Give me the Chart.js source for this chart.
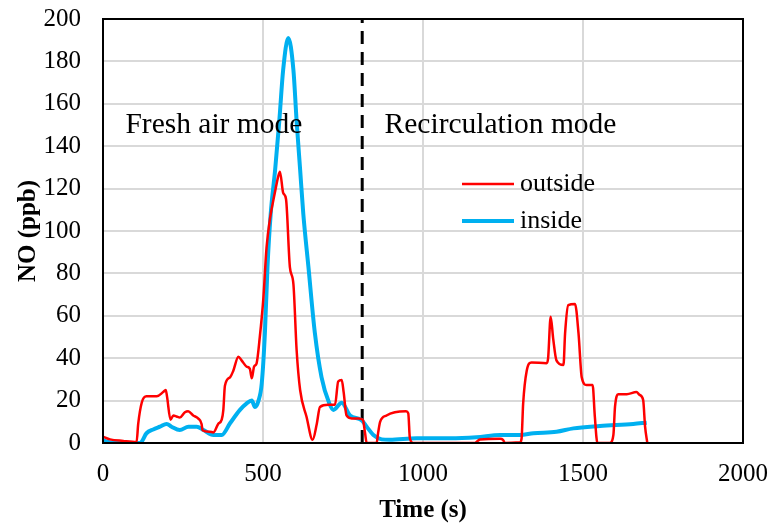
<!DOCTYPE html>
<html>
<head>
<meta charset="utf-8">
<script src="https://cdn.jsdelivr.net/npm/chart.js@4.4.0/dist/chart.umd.min.js"></script>
<style>
  html, body { margin: 0; padding: 0; background: #fff; }
  #wrap { width: 774px; height: 526px; }
</style>
</head>
<body>
<div id="wrap"><canvas id="myChart" width="774" height="526"></canvas></div>
<script>
// Outside NO (red)
const outsideTime = [0, 22, 63, 105, 110, 121, 136, 168, 188, 196, 200, 211, 220, 230, 240, 256, 266, 282, 298, 308, 311, 334, 345, 360, 371, 376, 381, 397, 407, 423, 433, 449, 459, 465, 472, 480, 490, 501, 511, 522, 537, 548, 553, 563, 572, 584, 595, 605, 616, 636, 655, 668, 678, 704, 725, 735, 746, 752, 761, 777, 798, 812, 819, 824, 855, 860, 866, 886, 912, 947, 954, 959, 969, 1162, 1178, 1241, 1250, 1256, 1303, 1308, 1313, 1324, 1339, 1386, 1391, 1399, 1407, 1417, 1439, 1444, 1454, 1475, 1486, 1496, 1511, 1530, 1537, 1545, 1584, 1595, 1600, 1610, 1637, 1667, 1677, 1688, 1694, 1701];
const outsideNO = [3, 1.7, 1, 0.5, 9, 19, 22, 22, 24, 25, 22, 11, 13, 12.5, 12, 14.5, 15, 13, 11.5, 9, 6, 5.3, 5, 9, 11, 15.5, 27, 31, 34, 40.7, 39, 36, 35, 30.5, 36, 37.6, 50, 68, 92, 106, 118, 126, 128, 118, 115, 83, 75, 44, 25, 12.4, 1.5, 9, 17, 18, 18, 29, 29.7, 24, 13, 11.6, 11.6, 11, 4.6, 0, 0, 5, 10, 13, 14.5, 15, 14, 2.2, 0, 0, 1.7, 2, 1.5, 0, 0.3, 2, 18.7, 34, 38, 37.6, 40, 59.6, 49, 39, 36.8, 51.7, 65, 65.6, 51.7, 31, 27.4, 27.4, 12.4, 0, 0, 3.8, 17, 23, 23, 24, 22.7, 20.3, 7.7, 0];

// Inside NO (blue)
const insideTime = [0, 16, 60, 116, 136, 157, 178, 199, 214, 240, 267, 293, 314, 345, 371, 397, 428, 449, 465, 475, 486, 496, 506, 514, 524, 538, 551, 563, 579, 595, 605, 616, 626, 642, 662, 683, 707, 720, 746, 772, 808, 824, 845, 871, 896, 980, 1084, 1167, 1241, 1303, 1345, 1417, 1470, 1553, 1657, 1699];
const insideNO = [1.4, 0.5, 0, 0, 4.6, 6.4, 7.7, 9, 7.7, 6.1, 7.7, 7.7, 6.1, 3.8, 3.8, 9.3, 15.6, 18.7, 20, 17, 20, 28, 52, 83, 108, 129, 152, 176, 191, 176, 152, 129, 108, 83, 52, 31, 18.7, 15.6, 19, 13, 10.8, 7.7, 3.8, 1.7, 1.5, 2.2, 2.2, 2.7, 3.8, 3.8, 4.6, 5.3, 6.9, 8, 9, 9.6];

// switch from fresh air to recirculation
const modeSwitchTime = 810;
const modeLabels = ['Fresh air mode', 'Recirculation mode'];

const xTicks = [0, 500, 1000, 1500, 2000];
const yMax = 200;

const serif = "'Liberation Serif', 'Times New Roman', serif";

function toPoints(xs, ys) {
  return xs.map((x, i) => ({ x: x, y: ys[i] }));
}

// frame, mode labels and legend drawn on the canvas
const extras = {
  id: 'extras',
  afterDatasetsDraw(chart) {
    const { ctx, chartArea: a, scales } = chart;
    ctx.save();
    ctx.strokeStyle = '#000';
    ctx.lineWidth = 2;
    ctx.strokeRect(a.left, a.top, a.right - a.left, a.bottom - a.top);

    ctx.fillStyle = '#000';
    ctx.font = '29.5px ' + serif;
    ctx.textBaseline = 'alphabetic';
    ctx.textAlign = 'left';
    ctx.fillText(modeLabels[0], scales.x.getPixelForValue(70), scales.y.getPixelForValue(146));
    ctx.fillText(modeLabels[1], scales.x.getPixelForValue(880), scales.y.getPixelForValue(146));

    // legend
    const items = chart.data.datasets.filter(d => d.label);
    ctx.font = '26px ' + serif;
    ctx.textBaseline = 'middle';
    items.forEach((d, i) => {
      const y = 184 + i * 37;
      ctx.strokeStyle = d.borderColor;
      ctx.lineWidth = d.borderWidth;
      ctx.beginPath();
      ctx.moveTo(462, y);
      ctx.lineTo(514, y);
      ctx.stroke();
      ctx.fillText(d.label, 520, y);
    });
    ctx.restore();
  }
};

const ctx = document.getElementById('myChart').getContext('2d');
const myChart = new Chart(ctx, {
  type: 'line',
  data: {
    datasets: [
      {
        label: 'outside',
        data: toPoints(outsideTime, outsideNO),
        borderColor: '#ff0000',
        borderWidth: 2.5,
        pointRadius: 0,
        cubicInterpolationMode: 'monotone',
        fill: false,
      },
      {
        label: 'inside',
        data: toPoints(insideTime, insideNO),
        borderColor: '#00b0f0',
        borderWidth: 4,
        pointRadius: 0,
        cubicInterpolationMode: 'monotone',
        fill: false,
      },
      {
        label: '',
        data: [{ x: modeSwitchTime, y: 0 }, { x: modeSwitchTime, y: yMax }],
        borderColor: '#000',
        borderWidth: 3,
        borderDash: [13, 8],
        pointRadius: 0,
        fill: false,
      },
    ],
  },
  options: {
    responsive: false,
    animation: false,
    layout: { padding: { top: 19, right: 31, left: 0, bottom: 0 } },
    plugins: {
      legend: { display: false },
      tooltip: { enabled: false },
    },
    scales: {
      x: {
        type: 'linear',
        min: 0,
        max: 2000,
        afterBuildTicks: (axis) => { axis.ticks = xTicks.map(v => ({ value: v })); },
        afterFit: (axis) => {
          axis.height = 83;
          axis.paddingLeft = 0;
          axis.paddingRight = 0;
        },
        grid: { color: '#d9d9d9', lineWidth: 2, drawTicks: false },
        border: { color: '#000', width: 2 },
        ticks: { color: '#000', padding: 16, maxRotation: 0, callback: (v) => String(v), font: { family: serif, size: 25 } },
        title: { display: true, text: 'Time (s)', color: '#000', padding: { top: 4, bottom: 0 }, font: { family: serif, size: 25, weight: 'bold' } },
      },
      y: {
        min: 0,
        max: yMax,
        afterFit: (axis) => {
          axis.width = 103;
          axis.paddingTop = 0;
          axis.paddingBottom = 0;
        },
        grid: { color: '#d9d9d9', lineWidth: 2, drawTicks: false },
        border: { color: '#000', width: 2 },
        ticks: { color: '#000', stepSize: 20, padding: 22, font: { family: serif, size: 25 } },
        title: { display: true, text: 'NO (ppb)', color: '#000', padding: { top: 14, bottom: 0 }, font: { family: serif, size: 25, weight: 'bold' } },
      },
    },
  },
  plugins: [extras],
});
</script>
</body>
</html>
